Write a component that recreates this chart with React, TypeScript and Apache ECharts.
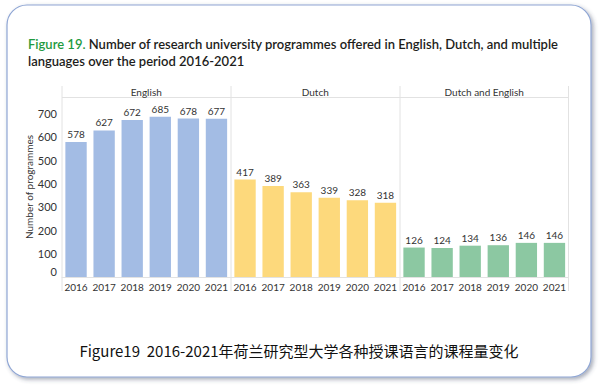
import React, { useEffect, useRef } from "react";
import * as echarts from "echarts";

const years = ["2016", "2017", "2018", "2019", "2020", "2021"];
const panelNames = ["English", "Dutch", "Dutch and English"];
const englishValues = [578, 627, 672, 685, 678, 677];
const dutchValues = [417, 389, 363, 339, 328, 318];
const bothValues = [126, 124, 134, 136, 146, 146];
const panelColors = ["#a3bce4", "#fdd97c", "#8cc8a2"];
const yTicks = [0, 100, 200, 300, 400, 500, 600, 700];
const titleLead = "Figure 19.";
const titleRest1 = " Number of research university programmes offered in English, Dutch, and multiple";
const titleLine2 = "languages over the period 2016-2021";
const caption = "Figure19  2016-2021年荷兰研究型大学各种授课语言的课程量变化";

const FONT = "Lato, 'Noto Sans', sans-serif";

export default function App() {
  const ref = useRef<HTMLDivElement>(null);
  useEffect(() => {
    if (!ref.current) return;
    const chart = echarts.init(ref.current, undefined, { renderer: "svg" });
    const seriesData = [englishValues, dutchValues, bothValues];
    const lefts = [62, 231, 400];
    const width = 168.5;
    const top = 97;
    const bottom = 277;
    const grids = lefts.map((l) => ({ left: l, top, width, height: bottom - top }));
    const xAxes = lefts.map((_, i) => ({
      type: "category",
      gridIndex: i,
      data: years,
      axisLine: { show: true, lineStyle: { color: "#e2e2e2", width: 1 } },
      axisTick: { show: false },
      axisLabel: { color: "#333", fontSize: 10, fontFamily: FONT, margin: 5, interval: 0 },
    }));
    const yAxes = lefts.map((_, i) => ({
      type: "value",
      gridIndex: i,
      min: 0,
      max: 770,
      interval: 100,
      splitLine: { show: false },
      axisLine: { show: false },
      axisTick: { show: false },
      axisLabel: {
        show: i === 0,
        showMaxLabel: false,
        color: "#333",
        fontSize: 11,
        fontFamily: FONT,
        margin: 5,
        formatter: (v: number) => (yTicks.includes(v) ? (v === 0 ? "{z|0}" : String(v)) : ""),
        rich: { z: { fontSize: 11, fontFamily: FONT, color: "#333", padding: [0, 0, 12, 0] } },
      },
      name: i === 0 ? "Number of programmes" : "",
      nameLocation: "middle",
      nameGap: 26,
      nameRotate: 90,
      nameTextStyle: { color: "#333", fontSize: 10, fontFamily: FONT },
    }));
    const series = seriesData.map((d, i) => ({
      type: "bar",
      xAxisIndex: i,
      yAxisIndex: i,
      data: d,
      barCategoryGap: "24%",
      itemStyle: { color: panelColors[i] },
      label: {
        show: true,
        position: "top",
        distance: 3,
        color: "#333",
        fontSize: 10,
        fontFamily: FONT,
      },
    }));
    const sepXs = [62, 231, 400, 568.5];
    const graphic: any[] = [
      {
        type: "rect",
        shape: { x: 7, y: 5, width: 584, height: 372, r: 20 },
        style: {
          fill: "#fff",
          stroke: "#8fa6d4",
          lineWidth: 1.2,
          shadowBlur: 4,
          shadowOffsetX: 2,
          shadowOffsetY: 2,
          shadowColor: "rgba(60,70,100,0.45)",
        },
        z: -10,
      },
      ...sepXs.map((x) => ({
        type: "line",
        shape: { x1: x, y1: 86, x2: x, y2: 291 },
        style: { stroke: "#e2e2e2", lineWidth: 1 },
        z: 1,
      })),
      {
        type: "line",
        shape: { x1: 62, y1: 97.5, x2: 568.5, y2: 97.5 },
        style: { stroke: "#e2e2e2", lineWidth: 1 },
      },
      ...panelNames.map((n, i) => ({
        type: "text",
        x: lefts[i] + width / 2,
        y: 91.5,
        style: {
          text: n,
          fill: "#333",
          fontSize: 10,
          fontFamily: FONT,
          align: "center",
          verticalAlign: "middle",
        },
      })),
      {
        type: "text",
        x: 28,
        y: 44,
        style: {
          text: "{g|" + titleLead + "}{b|" + titleRest1 + "}",
          verticalAlign: "middle",
          rich: {
            g: { fill: "#1f9a40", fontSize: 13, fontWeight: 600, fontFamily: FONT },
            b: { fill: "#1d1d1b", fontSize: 13, fontWeight: 600, fontFamily: FONT },
          },
        },
      },
      {
        type: "text",
        x: 28,
        y: 61,
        style: {
          text: titleLine2,
          fill: "#1d1d1b",
          fontSize: 13,
          fontWeight: 600,
          fontFamily: FONT,
          verticalAlign: "middle",
        },
      },
      {
        type: "text",
        x: 299,
        y: 350,
        style: {
          text: caption,
          fill: "#111",
          fontSize: 15,
          fontFamily: "'Noto Sans CJK SC', sans-serif",
          align: "center",
          verticalAlign: "middle",
        },
      },
    ];
    chart.setOption({
      animation: false,
      backgroundColor: "#ffffff",
      grid: grids,
      xAxis: xAxes,
      yAxis: yAxes,
      series,
      graphic,
    });
    return () => chart.dispose();
  }, []);
  return (
    <div
      ref={ref}
      style={{ position: "fixed", left: 0, top: 0, width: 599, height: 385 }}
    />
  );
}
